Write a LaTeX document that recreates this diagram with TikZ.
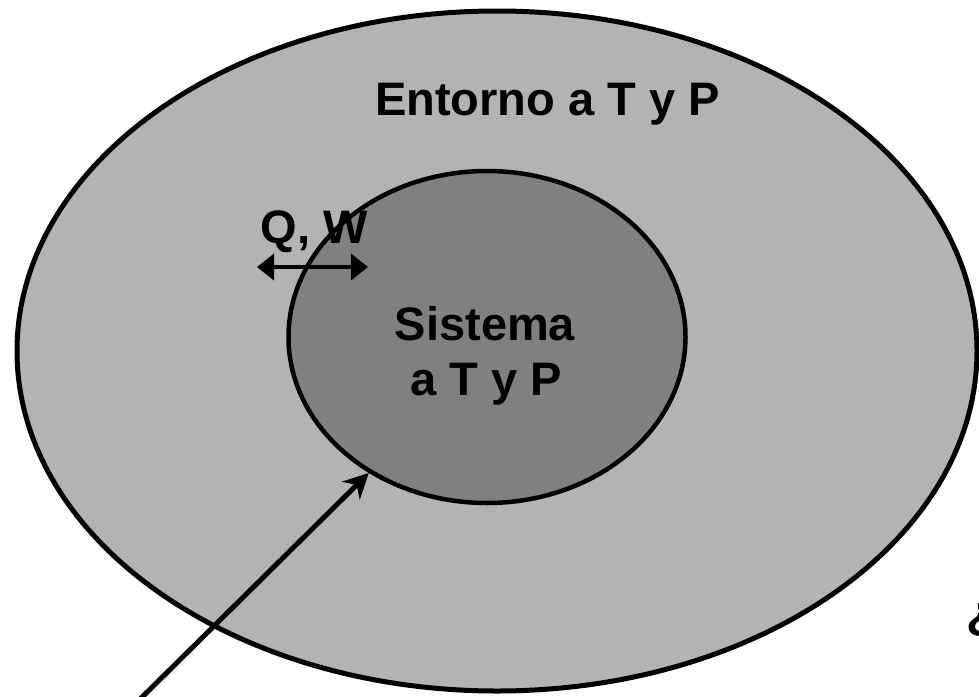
\documentclass[tikz,border=0pt]{standalone}
\usepackage{fontspec}
\setmainfont{Liberation Sans}
\usetikzlibrary{shapes.geometric,arrows.meta}
\definecolor{envgray}{HTML}{B3B3B3}
\definecolor{sysgray}{HTML}{808080}
\begin{document}
\begin{tikzpicture}[x=1pt,y=-1pt,
  lbl/.style={font=\fontsize{47}{55}\selectfont\bfseries, inner sep=0pt, anchor=base},
  region/.style={ellipse, draw=black, inner sep=0pt}]
\useasboundingbox (0,0) rectangle (979,696);
\clip (0,0) rectangle (979,696);
\node[region, fill=envgray, line width=5pt, minimum width=960pt, minimum height=680pt] (env) at (497,351) {};
\node[region, fill=sysgray, line width=4.5pt, minimum width=397pt, minimum height=332pt] (sys) at (487,337) {};
\coordinate (src) at (123,716);
\draw[line width=5pt, -{Stealth[length=25pt,width=25pt,inset=8pt]}] (src) -- (sys.229);
\coordinate (qwL) at (257,267);
\coordinate (qwR) at (368,267);
\draw[line width=4pt, {Triangle[length=17pt,width=26pt]}-{Triangle[length=17pt,width=26pt]}] (qwL) -- (qwR);
\node[lbl] (envlabel) at (547.5,115) {Entorno a T y P};
\node[lbl] (syslabel1) at (485,340) {Sistema};
\node[lbl] (syslabel2) at (486,395) {a T y P};
\node[lbl] (qwlabel) at (314.5,243) {Q, W};
\node[lbl, anchor=base west] (cut) at (966,628) {¿};
\end{tikzpicture}
\end{document}
